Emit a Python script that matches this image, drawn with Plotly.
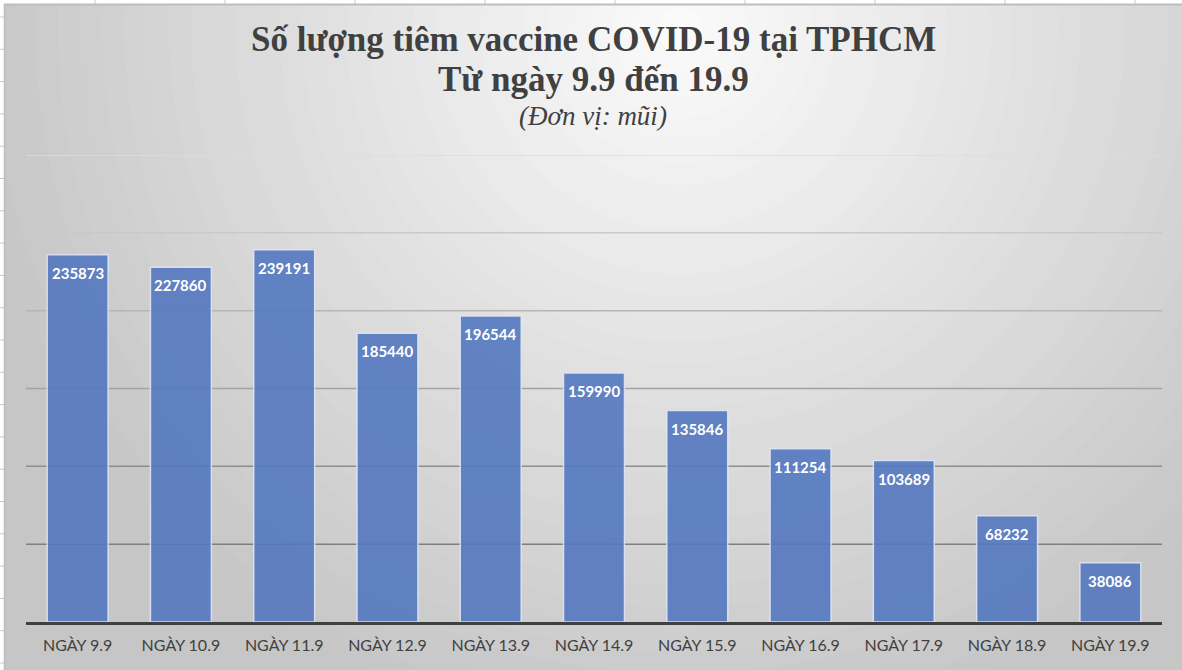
import plotly.graph_objects as go

# data
ngay = ["NGÀY 9.9", "NGÀY 10.9", "NGÀY 11.9", "NGÀY 12.9", "NGÀY 13.9", "NGÀY 14.9",
        "NGÀY 15.9", "NGÀY 16.9", "NGÀY 17.9", "NGÀY 18.9", "NGÀY 19.9"]
so_mui = [235873, 227860, 239191, 185440, 196544, 159990, 135846, 111254, 103689, 68232, 38086]
luoi = [50000, 100000, 150000, 200000, 250000, 300000]

W, H = 1182, 670
ML, MR, MT, MB = 26, 20, 155, 48
PW, PH = W - ML - MR, H - MT - MB


def px(x):
    return (x - ML) / PW


def py(y):
    return (H - MB - y) / PH


shapes = []

# nen gradient (gia lap bang cac vong tron)
cx, cy = px(680), py(30)
n = 45
for i in range(n):
    r = 1000 * (1 - i / n)
    g = int(max(198, min(250, 252 - 50 * r / 680)))
    shapes.append(dict(type="circle", xref="paper", yref="paper",
                       xsizemode="pixel", ysizemode="pixel",
                       xanchor=cx, yanchor=cy, x0=-r, x1=r, y0=-r, y1=r,
                       fillcolor=f"rgb({g},{g},{g})", line_width=0, layer="below"))

# vien bang tinh ben ngoai
shapes.append(dict(type="rect", xref="paper", yref="paper", x0=px(0), x1=px(W), y0=py(0), y1=py(4),
                   fillcolor="white", line_width=0, layer="below"))
shapes.append(dict(type="rect", xref="paper", yref="paper", x0=px(0), x1=px(4), y0=py(0), y1=py(H),
                   fillcolor="white", line_width=0, layer="below"))
shapes.append(dict(type="line", xref="paper", yref="paper", x0=px(4), x1=px(W), y0=py(4.5), y1=py(4.5),
                   line=dict(color="#bdbdbd", width=2), layer="below"))
shapes.append(dict(type="line", xref="paper", yref="paper", x0=px(4.5), x1=px(4.5), y0=py(4), y1=py(H),
                   line=dict(color="#bdbdbd", width=1.5), layer="below"))
for k in range(9):
    xx = 95 + 130 * k
    shapes.append(dict(type="line", xref="paper", yref="paper", x0=px(xx), x1=px(xx), y0=py(0), y1=py(4),
                       line=dict(color="#c8c8c8", width=1), layer="below"))
for k in range(21):
    yy = 17 + 32.3 * k
    shapes.append(dict(type="line", xref="paper", yref="paper", x0=px(0), x1=px(4), y0=py(yy), y1=py(yy),
                       line=dict(color="#c8c8c8", width=1), layer="below"))

# luoi ngang
mau_luoi = ["#7f7f7f", "#8e8e8e", "#a2a2a2", "#b6b6b6", "#c9c9c9", "#dcdcdc"]
for v, c in zip(luoi, mau_luoi):
    shapes.append(dict(type="line", xref="paper", yref="y", x0=0, x1=1, y0=v, y1=v,
                       line=dict(color=c, width=1.5), layer="below"))

fig = go.Figure()
fig.add_trace(go.Bar(
    x=ngay, y=so_mui,
    marker=dict(color="#5478C0", opacity=0.9, line=dict(color="rgba(225,232,245,0.9)", width=1.5)),
    width=0.59, hoverinfo="x+y",
))

annotations = []
for x, v in zip(ngay, so_mui):
    annotations.append(dict(x=x, y=v, xref="x", yref="y", text=str(v), showarrow=False,
                            yanchor="top", yshift=-7,
                            font=dict(family="Lato", size=15, color="white", weight="bold")))

tieu_de = [("<b>Số lượng tiêm vaccine COVID-19 tại TPHCM</b>", 35, 40),
           ("<b>Từ ngày 9.9 đến 19.9</b>", 35, 79),
           ("<i>(Đơn vị: mũi)</i>", 27, 116)]
for t, s, yy in tieu_de:
    annotations.append(dict(x=px(593), y=py(yy), xref="paper", yref="paper", text=t, showarrow=False,
                            xanchor="center", yanchor="middle",
                            font=dict(family="Liberation Serif", size=s, color="#404040")))

fig.update_layout(
    width=W, height=H,
    margin=dict(l=ML, r=MR, t=MT, b=MB),
    paper_bgcolor="#d0d0d0",
    plot_bgcolor="rgba(0,0,0,0)",
    showlegend=False,
    bargap=0.41,
    shapes=shapes,
    annotations=annotations,
)
fig.update_xaxes(showgrid=False, showline=True, linecolor="#404040", linewidth=3,
                 tickfont=dict(family="Lato", size=16, color="#404040"),
                 ticklabelstandoff=7, fixedrange=True)
fig.update_yaxes(range=[0, 300000], showgrid=False, showticklabels=False, zeroline=False,
                 fixedrange=True)

fig.write_html("out.html", config={"displayModeBar": False},
               post_script="document.body.style.margin='0';")
